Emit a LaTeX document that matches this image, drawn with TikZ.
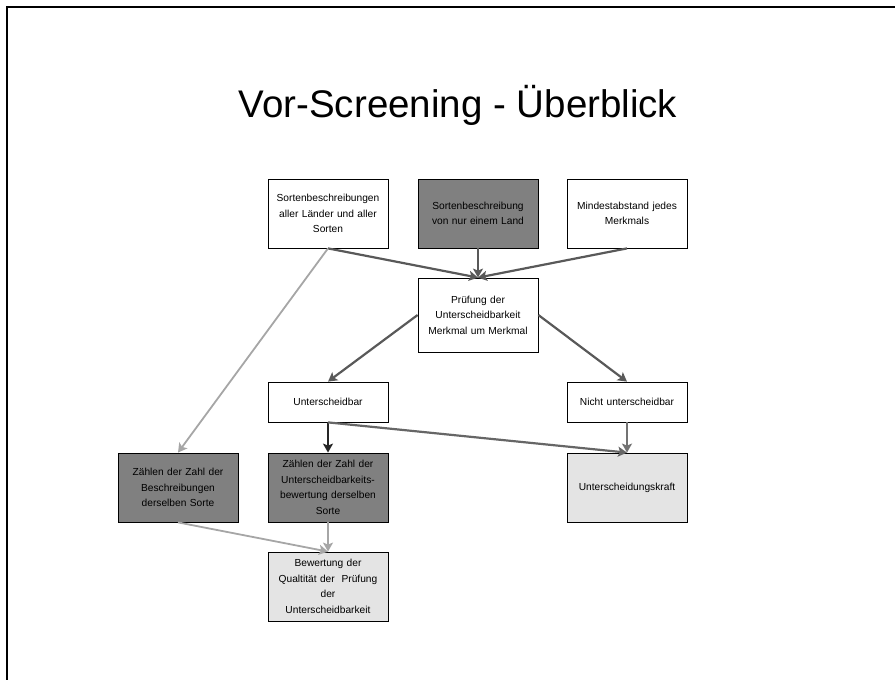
\documentclass[tikz,border=0pt]{standalone}
\usepackage{fontspec}
\setmainfont{Liberation Sans}
\usepackage{xcolor}
\usepackage{tikz}
\usetikzlibrary{arrows.meta}
\definecolor{boxdark}{HTML}{808080}
\definecolor{boxlight}{HTML}{E4E4E4}
\definecolor{linkdark}{HTML}{595959}
\definecolor{linklight}{HTML}{A6A6A6}

\begin{document}
\begin{tikzpicture}[x=1pt,y=-1pt,>={Stealth[length=9pt,width=10pt,inset=2pt]}]
    \tikzstyle{block} = [rectangle, draw, line width=0.8pt, fill=white, text width=114pt, align=center, minimum width=120pt, minimum height=69pt, inner sep=0pt, font=\fontsize{10.2}{15.5}\selectfont]
    \tikzstyle{shade} = [block, fill=boxdark]
    \tikzstyle{pale} = [block, fill=boxlight]
    \tikzstyle{flat} = [block, minimum height=40pt]
    \tikzstyle{link} = [->, draw, line width=2.2pt, linkdark]
    \tikzstyle{faint} = [->, draw, line width=1.8pt, linklight]
    \useasboundingbox (0,0) rectangle (895,680);
    \draw [line width=2pt] (895,6.5) -- (7,6.5) -- (7,680);
    \node [anchor=base, font=\fontsize{38.5}{40}\selectfont] (title) at (458,117) {Vor-Screening - Überblick};
    % top row
    \node [block] (alle) at (328,213.5) {Sortenbeschreibungen\\aller Länder und aller\\Sorten};
    \node [shade] (land) at (478,213.5) {Sortenbeschreibung\\von nur einem Land};
    \node [block] (abstand) at (627,213.5) {Mindestabstand jedes\\Merkmals};
    \node [block, minimum height=74pt] (pruef) at (478,315) {Prüfung der\\Unterscheidbarkeit\\Merkmal um Merkmal};
    \node [flat] (ja) at (328,402) {Unterscheidbar};
    \node [flat] (nein) at (627,402) {Nicht unterscheidbar};
    % bottom rows
    \node [shade] (zbeschr) at (178,487.5) {Zählen der Zahl der\\Beschreibungen\\derselben Sorte};
    \node [shade] (zbew) at (328,487.5) {Zählen der Zahl der\\Unterscheidbarkeits-\\bewertung derselben\\Sorte};
    \node [pale] (kraft) at (627,487.5) {Unterscheidungskraft};
    \node [pale] (quali) at (328,586.5) {Bewertung der\\Qualtität der\ \ Prüfung\\der\\Unterscheidbarkeit};
    \path [link] (alle.south) -- (pruef.north);
    \path [link] (land.south) -- (pruef.north);
    \path [link] (abstand.south) -- (pruef.north);
    \path [faint] (alle.south) -- (zbeschr.north);
    \path [link] (pruef.west) -- (ja.north);
    \path [link] (pruef.east) -- (nein.north);
    \path [link, black!85] (ja.south) -- (zbew.north);
    \path [link, black!60] (ja.south) -- (kraft.north);
    \path [link, black!55] (nein.south) -- (kraft.north);
    \path [faint] (zbeschr.south) -- (quali.north);
    \path [faint] (zbew.south) -- (quali.north);
\end{tikzpicture}
\end{document}
